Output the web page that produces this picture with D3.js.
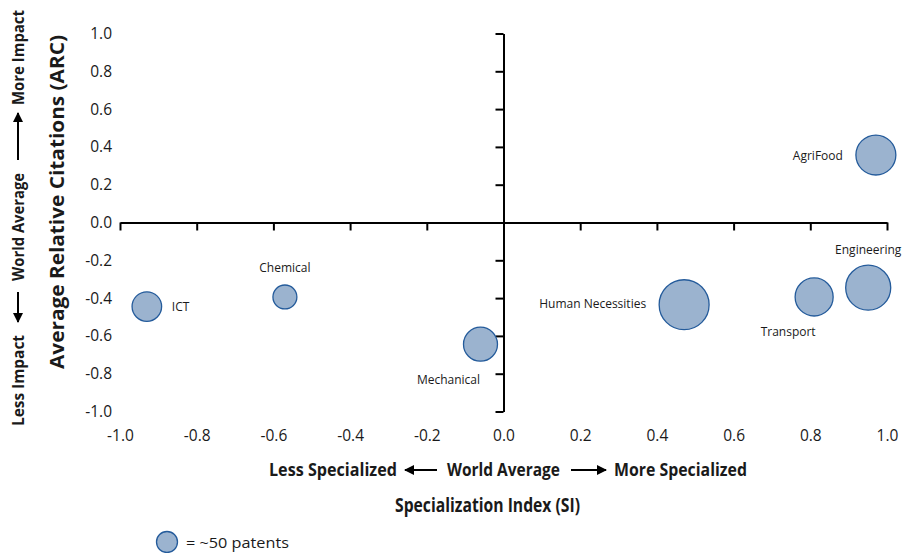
<!DOCTYPE html>
<html>
<head>
<meta charset="utf-8">
<script src="https://cdn.jsdelivr.net/npm/d3@7"></script>
<style>
  html, body { margin: 0; padding: 0; background: #fff; }
  svg { display: block; font-family: "Open Sans", "Noto Sans", sans-serif; }
</style>
</head>
<body>
<svg id="chart" width="902" height="553"></svg>
<script>
// ---- Data ----
const categories = ["ICT", "Chemical", "Mechanical", "AgriFood", "Human Necessities", "Transport", "Engineering"];
const siValues   = [-0.93, -0.57, -0.06, 0.971, 0.471, 0.81, 0.951];
const arcValues  = [-0.445, -0.394, -0.644, 0.357, -0.435, -0.394, -0.345];
const patents    = [99, 65, 131, 181, 283, 164, 230];
const tickValues = [-1.0, -0.8, -0.6, -0.4, -0.2, 0.0, 0.2, 0.4, 0.6, 0.8, 1.0];
const legendPatents = 50;
const legendLabel = "= ~50 patents";
const xTitle = "Specialization Index (SI)";
const yTitle = "Average Relative Citations (ARC)";
const xSub = ["Less Specialized", "World Average", "More Specialized"];
const ySub = ["Less Impact", "World Average", "More Impact"];

// ---- Layout (label placement) ----
const labelPlace = {
  "ICT":               {anchor: "start",  dx: 25,  dy: 0},
  "Chemical":          {anchor: "middle", dx: 0,   dy: -29},
  "Mechanical":        {anchor: "middle", dx: -32, dy: 36},
  "AgriFood":          {anchor: "end",    dx: -33, dy: 1},
  "Human Necessities": {anchor: "end",    dx: -38, dy: -1},
  "Transport":         {anchor: "middle", dx: -26, dy: 35},
  "Engineering":       {anchor: "middle", dx: 0,   dy: -38}
};

const svg = d3.select("#chart");
const x = d3.scaleLinear().domain([-1, 1]).range([120, 887]);
const y = d3.scaleLinear().domain([-1, 1]).range([411.5, 33.5]);
const r = d3.scaleSqrt().domain([0, legendPatents]).range([0, 10.5]);

const fill = "#9bb3cf", stroke = "#245b9b", ink = "#1a1a1a";

// arrow marker
svg.append("defs").append("marker")
  .attr("id", "ah").attr("viewBox", "0 0 10 10").attr("refX", 9).attr("refY", 5)
  .attr("markerWidth", 10).attr("markerHeight", 10).attr("markerUnits", "userSpaceOnUse")
  .attr("orient", "auto")
  .append("path").attr("d", "M0,0 L10,5 L0,10 z").attr("fill", "#000");

// axes lines with ticks
const fmt = v => d3.format(".1f")(v).replace("\u2212", "-");
const xAxisG = svg.append("g").attr("transform", `translate(0,${y(0)})`)
  .call(d3.axisBottom(x).tickValues(tickValues).tickSize(8).tickSizeOuter(0).tickFormat(""));
const yAxisG = svg.append("g").attr("transform", `translate(${x(0)},0)`)
  .call(d3.axisLeft(y).tickValues(tickValues).tickSize(8).tickSizeOuter(0).tickFormat(""));
[xAxisG, yAxisG].forEach(g => {
  g.selectAll("path.domain").attr("stroke", "#000").attr("stroke-width", 2);
  g.selectAll(".tick line").attr("stroke", "#000").attr("stroke-width", 2);
});

// tick labels
const xLab = svg.append("g").attr("transform", `translate(0,${y(-1)})`)
  .call(d3.axisBottom(x).tickValues(tickValues).tickSize(0).tickPadding(18).tickFormat(fmt));
const yLab = svg.append("g").attr("transform", `translate(${x(-1)},0)`)
  .call(d3.axisLeft(y).tickValues(tickValues).tickSize(0).tickPadding(8).tickFormat(fmt));
[xLab, yLab].forEach(g => {
  g.select("path.domain").remove();
  g.selectAll("text").attr("font-size", 15.5).attr("fill", ink)
    .attr("font-family", "'Open Sans', sans-serif");
});

// bubbles
const data = categories.map((c, i) => ({name: c, si: siValues[i], arc: arcValues[i], n: patents[i]}));
svg.append("g").selectAll("circle").data(data).join("circle")
  .attr("cx", d => x(d.si)).attr("cy", d => y(d.arc)).attr("r", d => r(d.n))
  .attr("fill", fill).attr("stroke", stroke).attr("stroke-width", 1.3);

svg.append("g").selectAll("text").data(data).join("text")
  .attr("x", d => x(d.si) + labelPlace[d.name].dx)
  .attr("y", d => y(d.arc) + labelPlace[d.name].dy)
  .attr("dy", "0.35em")
  .attr("text-anchor", d => labelPlace[d.name].anchor)
  .attr("font-size", 12).attr("fill", ink)
  .text(d => d.name);

// y-axis title
svg.append("text")
  .attr("transform", `translate(57,202) rotate(-90)`)
  .attr("text-anchor", "middle").attr("dy", "0.35em")
  .attr("font-size", 20).attr("font-weight", "bold").attr("fill", ink)
  .attr("textLength", 334).attr("lengthAdjust", "spacingAndGlyphs")
  .text(yTitle);

// y sub-title (rotated)
const ys = svg.append("g").attr("transform", "translate(18,0) rotate(-90)");
ys.append("text").attr("x", -426).attr("y", 0).attr("dy", "0.35em")
  .attr("text-anchor", "start").attr("font-size", 16).attr("font-weight", "bold").attr("fill", ink)
  .attr("textLength", 91).attr("lengthAdjust", "spacingAndGlyphs")
  .text(ySub[0]);
ys.append("line").attr("x1", -292).attr("x2", -322).attr("y1", 0).attr("y2", 0)
  .attr("stroke", "#000").attr("stroke-width", 2).attr("marker-end", "url(#ah)");
ys.append("text").attr("x", -227).attr("y", 0).attr("dy", "0.35em")
  .attr("text-anchor", "middle").attr("font-size", 16).attr("font-weight", "bold").attr("fill", ink)
  .attr("textLength", 108).attr("lengthAdjust", "spacingAndGlyphs")
  .text(ySub[1]);
ys.append("line").attr("x1", -160).attr("x2", -113).attr("y1", 0).attr("y2", 0)
  .attr("stroke", "#000").attr("stroke-width", 2).attr("marker-end", "url(#ah)");
ys.append("text").attr("x", -10).attr("y", 0).attr("dy", "0.35em")
  .attr("text-anchor", "end").attr("font-size", 16).attr("font-weight", "bold").attr("fill", ink)
  .attr("textLength", 95).attr("lengthAdjust", "spacingAndGlyphs")
  .text(ySub[2]);

// x sub-title
const xs = svg.append("g").attr("transform", "translate(0,470)");
xs.append("text").attr("x", 397).attr("dy", "0.35em").attr("text-anchor", "end")
  .attr("font-size", 17).attr("font-weight", "bold").attr("fill", ink)
  .attr("textLength", 128).attr("lengthAdjust", "spacingAndGlyphs").text(xSub[0]);
xs.append("line").attr("x1", 437).attr("x2", 405).attr("y1", 0).attr("y2", 0)
  .attr("stroke", "#000").attr("stroke-width", 2).attr("marker-end", "url(#ah)");
xs.append("text").attr("x", 503.5).attr("dy", "0.35em").attr("text-anchor", "middle")
  .attr("font-size", 17).attr("font-weight", "bold").attr("fill", ink)
  .attr("textLength", 113).attr("lengthAdjust", "spacingAndGlyphs").text(xSub[1]);
xs.append("line").attr("x1", 571).attr("x2", 606).attr("y1", 0).attr("y2", 0)
  .attr("stroke", "#000").attr("stroke-width", 2).attr("marker-end", "url(#ah)");
xs.append("text").attr("x", 614).attr("dy", "0.35em").attr("text-anchor", "start")
  .attr("font-size", 17).attr("font-weight", "bold").attr("fill", ink)
  .attr("textLength", 133).attr("lengthAdjust", "spacingAndGlyphs").text(xSub[2]);

// x title
svg.append("text").attr("x", 487.5).attr("y", 505).attr("dy", "0.35em")
  .attr("text-anchor", "middle").attr("font-size", 19).attr("font-weight", "bold").attr("fill", ink)
  .attr("textLength", 185).attr("lengthAdjust", "spacingAndGlyphs")
  .text(xTitle);

// legend
svg.append("circle").attr("cx", 167).attr("cy", 542).attr("r", r(legendPatents))
  .attr("fill", fill).attr("stroke", stroke).attr("stroke-width", 1.3);
svg.append("text").attr("x", 186).attr("y", 543).attr("dy", "0.35em")
  .attr("font-size", 15).attr("fill", ink)
  .attr("textLength", 103).attr("lengthAdjust", "spacingAndGlyphs")
  .text(legendLabel);
</script>
</body>
</html>
